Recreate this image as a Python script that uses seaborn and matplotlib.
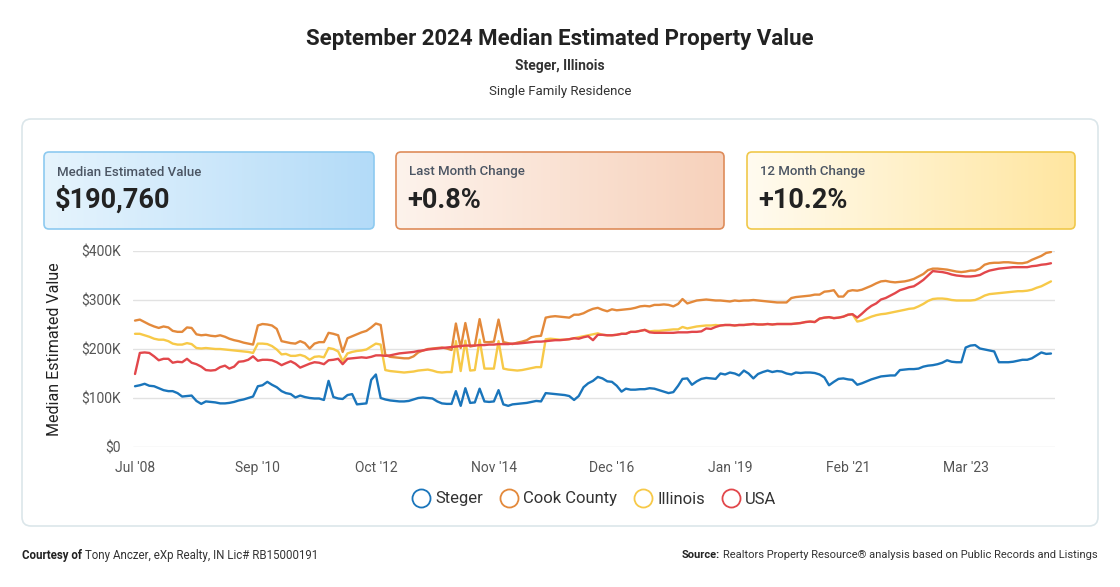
import numpy as np
import pandas as pd
import matplotlib
matplotlib.use('Agg')
import matplotlib.pyplot as plt
import seaborn as sns
from matplotlib.patches import FancyBboxPatch
from matplotlib.lines import Line2D
from matplotlib.colors import LinearSegmentedColormap

sns.set_theme(style='white')
plt.rcParams['font.family'] = ['Roboto', 'DejaVu Sans']

# monthly data, Jul 2008 - Sep 2024, values in $K
months = pd.date_range('2008-07-01', periods=195, freq='MS')
series_names = ['Steger', 'Cook County', 'Illinois', 'USA']
series_colors = ['#1a75bb', '#e3893b', '#f7c948', '#e2474b']

steger = [124, 126, 129, 125, 124, 120, 116, 114, 114, 110, 103, 104, 105, 94, 88, 93, 92, 91, 89, 89,
          90, 92, 95, 97, 100, 103, 124, 126, 133, 127, 122, 114, 110,
          108, 101, 105, 102, 100, 99, 99, 96, 135, 102, 99, 98, 106, 108, 87, 88, 89, 137, 148, 100,
          97, 95, 94, 93, 93, 94, 97, 100, 101, 100, 99, 93, 89,
          88, 88, 114, 84, 120, 90, 91, 119, 93, 92, 93, 116, 87, 84, 87, 88, 89, 90, 92, 94,
          93, 110, 109, 108, 107, 106, 104, 96, 104, 122, 130, 135, 143,
          140, 134, 133, 125, 113, 119, 117, 117, 118, 118, 120, 119, 116, 113, 110, 112, 125, 139, 140, 127,
          134, 139, 141, 140, 139, 150, 148, 152, 150, 146, 156, 150, 140,
          149, 153, 156, 153, 155, 154, 150, 148, 152, 151, 152, 152, 151, 148, 142, 126, 133, 139, 140, 138,
          137, 127, 130, 134, 138, 141, 144, 145, 146, 146, 157, 158, 159,
          159, 160, 164, 166, 167, 169, 172, 177, 174, 173, 173, 203, 207, 208, 201, 199, 197, 195, 173, 173,
          173, 174, 176, 178, 178, 181, 187, 193, 190, 190.76]

cook_county = [258, 260, 255, 250, 246, 243, 246, 244, 237, 235, 235, 244, 243, 230, 228, 229, 227, 226, 228, 225,
               221, 218, 216, 213, 211, 209, 248, 251, 250, 248, 241, 216, 214,
               212, 211, 216, 212, 201, 211, 214, 214, 233, 231, 228, 194, 222, 226, 230, 234, 237, 244, 252, 249,
               188, 184, 183, 182, 181, 181, 185, 193, 197, 200, 201, 202, 203,
               201, 198, 252, 202, 253, 205, 207, 261, 214, 214, 215, 260, 214, 212, 210, 213, 215, 218, 224, 226,
               227, 264, 266, 267, 266, 265, 264, 270, 270, 273, 278, 282, 284,
               280, 277, 281, 279, 280, 281, 282, 284, 287, 288, 287, 290, 290, 291, 290, 287, 292, 302, 293, 296,
               299, 300, 301, 300, 299, 299, 298, 297, 299, 298, 299, 299, 300,
               299, 298, 297, 296, 295, 295, 295, 304, 306, 307, 308, 309, 311, 311, 317, 318, 320, 307, 307, 318,
               320, 319, 321, 325, 329, 334, 338, 339, 337, 336, 337, 338, 340,
               343, 348, 353, 361, 364, 364, 363, 362, 360, 358, 357, 358, 360, 360, 364, 372, 375, 376, 376, 377,
               377, 376, 375, 375, 377, 382, 386, 390, 396, 398]

illinois = [231, 231, 228, 225, 221, 219, 219, 216, 211, 209, 209, 212, 210, 202, 201, 202, 201, 200, 200, 199,
            198, 197, 196, 195, 194, 192, 211, 211, 210, 206, 199, 189, 190,
            186, 186, 188, 185, 178, 184, 185, 183, 202, 200, 195, 175, 191, 194, 196, 197, 199, 205, 211, 209,
            157, 155, 154, 153, 152, 153, 154, 156, 157, 158, 156, 153, 152,
            153, 153, 216, 155, 217, 156, 157, 219, 160, 160, 160, 216, 160, 158, 157, 156, 157, 159, 161, 163,
            163, 220, 221, 220, 219, 219, 220, 222, 224, 226, 228, 230, 232,
            229, 228, 228, 229, 231, 231, 235, 235, 237, 239, 236, 237, 237, 238, 239, 240, 240, 245, 242, 244,
            246, 247, 248, 248, 249, 248, 249, 249, 248, 249, 249, 250, 251,
            250, 250, 251, 250, 251, 251, 251, 251, 252, 253, 255, 256, 255, 262, 264, 265, 263, 264, 266, 270,
            271, 256, 258, 262, 266, 269, 271, 272, 274, 276, 278, 280, 282,
            283, 287, 292, 298, 302, 303, 303, 302, 300, 299, 299, 299, 299, 300, 304, 309, 312, 313, 314, 315,
            316, 317, 318, 318, 319, 321, 325, 328, 333, 338]

usa = [149, 192, 193, 192, 185, 177, 180, 180, 172, 174, 173, 180, 172, 169, 164, 157, 156, 157, 163, 166,
       160, 164, 174, 175, 178, 185, 176, 178, 178, 177, 173, 167, 171,
       175, 170, 162, 166, 170, 173, 172, 169, 177, 178, 180, 169, 180, 181, 182, 183, 182, 184, 187, 187,
       186, 187, 189, 191, 192, 193, 194, 196, 197, 199, 200, 201, 202,
       203, 204, 205, 206, 207, 207, 207, 208, 208, 209, 209, 210, 210, 210, 211, 211, 212, 213, 214, 215,
       215, 216, 217, 218, 218, 219, 220, 222, 221, 224, 226, 218, 229,
       229, 228, 228, 229, 231, 231, 235, 235, 237, 239, 234, 233, 233, 233, 233, 233, 234, 234, 234, 235,
       235, 236, 242, 241, 245, 248, 249, 249, 248, 249, 249, 250, 251,
       250, 250, 251, 250, 251, 251, 251, 251, 252, 253, 255, 256, 255, 262, 264, 265, 263, 264, 266, 270,
       271, 264, 272, 281, 288, 293, 301, 304, 309, 314, 320, 323, 326,
       328, 334, 341, 350, 359, 358, 357, 355, 352, 350, 349, 348, 348, 349, 351, 356, 360, 362, 364, 365,
       366, 367, 367, 367, 367, 369, 370, 372, 373, 375]

tick_dates = ['2008-07-01', '2010-09-01', '2012-10-01', '2014-11-01',
              '2016-12-01', '2019-01-01', '2021-02-01', '2023-03-01']
tick_labels = ["Jul '08", "Sep '10", "Oct '12", "Nov '14", "Dec '16", "Jan '19", "Feb '21", "Mar '23"]
y_ticks = [0, 100000, 200000, 300000, 400000]
y_labels = ['$0', '$100K', '$200K', '$300K', '$400K']

card_titles = ['Median Estimated Value', 'Last Month Change', '12 Month Change']
card_values = ['$190,760', '+0.8%', '+10.2%']

all_values = [steger, cook_county, illinois, usa]
df = pd.DataFrame({
    'month': np.tile(months, 4),
    'series': np.repeat(series_names, len(months)),
    'value': np.concatenate([np.array(v, dtype=float) * 1000 for v in all_values]),
})

fig = plt.figure(figsize=(11.2, 5.87), dpi=100)
fig.patch.set_facecolor('white')

# background axes in pixel coordinates
bg = fig.add_axes([0, 0, 1, 1], zorder=0)
bg.axis('off')

bg.text(560, 39, 'September 2024 Median Estimated Property Value', ha='center', va='center',
        fontsize=16, fontweight='bold', color='#222222')
bg.text(560, 66, 'Steger, Illinois', ha='center', va='center', fontsize=10, fontweight='bold', color='#333333')
bg.text(560, 92, 'Single Family Residence', ha='center', va='center', fontsize=9.5, color='#333333')

panel = FancyBboxPatch((22, 119), 1076, 407, boxstyle='round,pad=0,rounding_size=9',
                       fc='white', ec='#dbe6ea', lw=1.2, zorder=0.5)
bg.add_patch(panel)

card_boxes = [(44, 152, 330, 77), (396, 152, 328, 77), (747, 152, 328, 77)]
card_fills = [('#e6f4fd', '#b3dbf8'), ('#fdf3ec', '#f7d1bb'), ('#fffbf0', '#ffe6a0')]
card_edges = ['#8dcaf0', '#de8c5a', '#f0c84a']
grad = np.linspace(0, 1, 256).reshape(1, -1)
for (x0, y0, w, h), (c0, c1), ec, title, val in zip(card_boxes, card_fills, card_edges, card_titles, card_values):
    box = FancyBboxPatch((x0, y0), w, h, boxstyle='round,pad=0,rounding_size=5',
                         fc='none', ec=ec, lw=1.2, zorder=2)
    bg.add_patch(box)
    cmap = LinearSegmentedColormap.from_list('g', [c0, c1])
    im = bg.imshow(grad, extent=(x0, x0 + w, y0 + h, y0), cmap=cmap, aspect='auto', zorder=1)
    im.set_clip_path(box)
    bg.text(x0 + 13, 172, title, ha='left', va='center', fontsize=9.5, fontweight='medium', color='#4b5563')
    bg.text(x0 + 11, 200, val, ha='left', va='center', fontsize=19.5, fontweight='bold', color='#222222')

bg.text(55, 349, 'Median Estimated Value', rotation=90, ha='center', va='center', fontsize=11.5, color='#222222')

bg.set_xlim(0, 1120)
bg.set_ylim(587, 0)

# main line chart
ax = fig.add_axes([133 / 1120, 1 - 447 / 587, 922 / 1120, 196 / 587], zorder=2)
ax.patch.set_alpha(0)
sns.lineplot(data=df, x='month', y='value', hue='series', hue_order=series_names,
             palette=series_colors, linewidth=1.7, legend=False, ax=ax)
ax.set_xlim(months[0] - pd.Timedelta(days=13), months[-1] + pd.Timedelta(days=26))
ax.set_ylim(0, 400000)
ax.set_yticks(y_ticks)
ax.set_yticklabels(y_labels)
ax.set_xticks(pd.to_datetime(tick_dates))
ax.set_xticklabels(tick_labels)
ax.set_xlabel('')
ax.set_ylabel('')
ax.grid(axis='y', color='#e2e2e2', lw=1)
ax.grid(axis='x', visible=False)
for s in ax.spines.values():
    s.set_visible(False)
ax.tick_params(axis='y', length=0, labelsize=10, labelcolor='#555555', pad=9)
ax.tick_params(axis='x', length=0, labelsize=10, labelcolor='#555555', pad=10)

handles = [Line2D([], [], marker='o', ls='none', mfc='none', mec=c, mew=1.3, ms=13) for c in series_colors]
fig.legend(handles, series_names, loc='center', bbox_to_anchor=(594 / 1120, 1 - 499 / 587), ncol=4,
           frameon=False, fontsize=12, handlelength=1.1, handletextpad=0.3, columnspacing=1.0,
           labelcolor='#333333')

# footer with mixed weights
r = fig.canvas.get_renderer()
t1 = bg.text(22, 555, 'Courtesy of', ha='left', va='center', fontsize=8.3, fontweight='bold', color='#222222')
bb = t1.get_window_extent(renderer=r)
x_end = bg.transData.inverted().transform((bb.x1, bb.y0))[0]
bg.text(x_end + 3, 555, 'Tony Anczer, eXp Realty, IN Lic# RB15000191', ha='left', va='center',
        fontsize=8.3, color='#333333')

t2 = bg.text(1098, 555, 'Realtors Property Resource\u00ae analysis based on Public Records and Listings',
             ha='right', va='center', fontsize=8.0, color='#333333')
bb = t2.get_window_extent(renderer=r)
x_start = bg.transData.inverted().transform((bb.x0, bb.y0))[0]
bg.text(x_start - 3, 555, 'Source:', ha='right', va='center', fontsize=8.0, fontweight='bold', color='#222222')

fig.savefig('out.png', dpi=100)
